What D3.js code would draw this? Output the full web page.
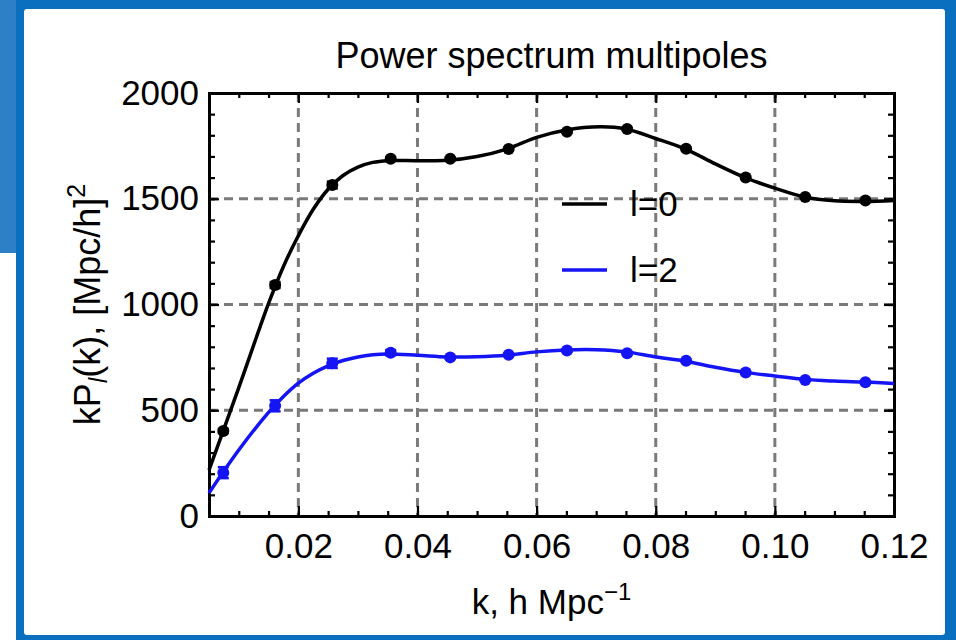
<!DOCTYPE html>
<html>
<head>
<meta charset="utf-8">
<script src="https://cdn.jsdelivr.net/npm/d3@7"></script>
<style>
  body { margin: 0; background: #fff; }
  svg { display: block; }
</style>
</head>
<body>
<div id="chart"></div>
<script>
var kPts  = [0.0074, 0.0161, 0.0257, 0.0355, 0.0455, 0.0553, 0.0651, 0.0752, 0.0851, 0.0951, 0.1051, 0.1152];
var p0Pts = [402, 1092, 1565, 1689, 1689, 1735, 1817, 1830, 1736, 1600, 1508, 1492];
var p0Err = [10, 14, 16, 8, 6, 5, 5, 5, 5, 5, 4, 4];
var p2Pts = [205, 521, 722, 772, 750, 762, 782, 770, 734, 678, 643, 632];
var p2Err = [26, 26, 22, 12, 6, 5, 5, 5, 4, 4, 4, 4];

// model curves
var k0Model = [0.005, 0.01, 0.015, 0.0175, 0.02, 0.0225, 0.025, 0.0275, 0.03, 0.0325, 0.035, 0.04, 0.045, 0.05, 0.055, 0.06, 0.065, 0.0707, 0.075, 0.08, 0.085, 0.09, 0.095, 0.10, 0.105, 0.11, 0.115, 0.12];
var p0Model = [217, 607, 1005, 1180, 1325, 1450, 1545, 1610, 1650, 1672, 1680, 1680, 1682, 1700, 1735, 1790, 1825, 1840, 1830, 1785, 1735, 1665, 1600, 1550, 1508, 1490, 1487, 1492];
var k2Model = [0.005, 0.01, 0.015, 0.0175, 0.02, 0.0225, 0.025, 0.0275, 0.03, 0.0325, 0.035, 0.04, 0.045, 0.05, 0.055, 0.06, 0.065, 0.07, 0.075, 0.08, 0.085, 0.09, 0.095, 0.10, 0.105, 0.11, 0.115, 0.12];
var p2Model = [109, 312, 490, 565, 628, 675, 710, 735, 752, 762, 766, 760, 752, 753, 760, 776, 785, 786, 776, 752, 732, 703, 679, 662, 646, 638, 633, 627];

var xMajor = [0.02, 0.04, 0.06, 0.08, 0.10, 0.12];
var yMajor = [0, 500, 1000, 1500, 2000];
var xGrid = [0.02, 0.04, 0.06, 0.08, 0.10];
var yGrid = [500, 1000, 1500];

var W = 956, H = 640;
var margin = {left: 209, right: 956 - 894, top: 93, bottom: 640 - 516};
var width = W - margin.left - margin.right;
var height = H - margin.top - margin.bottom;

var svg = d3.select('#chart').append('svg')
    .attr('width', W)
    .attr('height', H)
    .style('font-family', '"Liberation Sans", Arial, sans-serif');

// slide frame
svg.append('rect').attr('x', 0).attr('y', 0).attr('width', W).attr('height', H).attr('fill', '#0b6fbf');
svg.append('rect').attr('x', 0).attr('y', 253).attr('width', 16).attr('height', H - 253).attr('fill', '#fff');
svg.append('rect').attr('x', 0).attr('y', 0).attr('width', 16).attr('height', 253).attr('fill', '#2d7fc6');
svg.append('rect').attr('x', 24).attr('y', 9).attr('width', 945 - 24).attr('height', 635 - 9)
    .attr('rx', 3).attr('fill', '#fff');

var g = svg.append('g')
    .attr('transform', 'translate(' + margin.left + ',' + margin.top + ')');

var x = d3.scaleLinear().domain([0.005, 0.12]).range([0, width]);
var y = d3.scaleLinear().domain([0, 2000]).range([height, 0]);

var xMinor = d3.range(10, 121, 5).map(function(d) { return d / 1000; });
var yMinor = d3.range(100, 2000, 100);

// dashed grid
g.selectAll('.gx').data(xGrid).enter().append('line')
    .attr('x1', d => x(d)).attr('x2', d => x(d))
    .attr('y1', 0).attr('y2', height)
    .attr('stroke', '#7a7a7a').attr('stroke-width', 3)
    .attr('stroke-dasharray', '9,6');
g.selectAll('.gy').data(yGrid).enter().append('line')
    .attr('x1', 0).attr('x2', width)
    .attr('y1', d => y(d)).attr('y2', d => y(d))
    .attr('stroke', '#7a7a7a').attr('stroke-width', 3)
    .attr('stroke-dasharray', '9,6');

// axes with inward ticks on all four sides
function styleAxis(sel) {
    sel.select('.domain').attr('stroke', '#000').attr('stroke-width', 3);
    sel.selectAll('.tick line').attr('stroke', '#000').attr('stroke-width', 2.2);
    sel.selectAll('.tick text').attr('fill', '#000').style('font-size', '35px');
}

g.append('g').attr('transform', 'translate(0,' + height + ')')
    .call(d3.axisBottom(x).tickValues(xMinor).tickSize(-5).tickFormat(''))
    .call(styleAxis);
g.append('g').attr('transform', 'translate(0,' + height + ')')
    .call(d3.axisBottom(x).tickValues(xMajor).tickSize(-10).tickSizeOuter(0).tickPadding(17).tickFormat(d3.format('.2f')))
    .call(styleAxis);
g.append('g')
    .call(d3.axisTop(x).tickValues(xMinor).tickSize(-5).tickFormat(''))
    .call(styleAxis);
g.append('g')
    .call(d3.axisTop(x).tickValues(xMajor).tickSize(-10).tickSizeOuter(0).tickFormat(''))
    .call(styleAxis);

g.append('g')
    .call(d3.axisLeft(y).tickValues(yMinor).tickSize(-6).tickFormat(''))
    .call(styleAxis);
g.append('g')
    .call(d3.axisLeft(y).tickValues(yMajor).tickSize(-10).tickSizeOuter(0).tickPadding(10).tickFormat(d3.format('d')))
    .call(styleAxis);
g.append('g').attr('transform', 'translate(' + width + ',0)')
    .call(d3.axisRight(y).tickValues(yMinor).tickSize(-6).tickFormat(''))
    .call(styleAxis);
g.append('g').attr('transform', 'translate(' + width + ',0)')
    .call(d3.axisRight(y).tickValues(yMajor).tickSize(-10).tickSizeOuter(0).tickFormat(''))
    .call(styleAxis);

// model lines
var line = d3.line()
    .curve(d3.curveCatmullRom.alpha(0.5))
    .x(d => x(d[0]))
    .y(d => y(d[1]));

var series = [
    {name: 'l=0', color: '#000', kModel: k0Model, model: p0Model, pts: p0Pts, err: p0Err},
    {name: 'l=2', color: '#1414f5', kModel: k2Model, model: p2Model, pts: p2Pts, err: p2Err}
];

series.forEach(function(s) {
    g.append('path')
        .datum(s.kModel.map((k, i) => [k, s.model[i]]))
        .attr('fill', 'none')
        .attr('stroke', s.color)
        .attr('stroke-width', 3.5)
        .attr('d', line);

    var pts = kPts.map((k, i) => ({k: k, v: s.pts[i], e: s.err[i]}));
    var eb = g.append('g').attr('stroke', s.color).attr('stroke-width', 2.5);
    eb.selectAll('.bar').data(pts).enter().append('line')
        .attr('x1', d => x(d.k)).attr('x2', d => x(d.k))
        .attr('y1', d => y(d.v - d.e)).attr('y2', d => y(d.v + d.e));
    eb.selectAll('.capLo').data(pts).enter().append('line')
        .attr('x1', d => x(d.k) - 5.5).attr('x2', d => x(d.k) + 5.5)
        .attr('y1', d => y(d.v - d.e)).attr('y2', d => y(d.v - d.e));
    eb.selectAll('.capHi').data(pts).enter().append('line')
        .attr('x1', d => x(d.k) - 5.5).attr('x2', d => x(d.k) + 5.5)
        .attr('y1', d => y(d.v + d.e)).attr('y2', d => y(d.v + d.e));

    g.selectAll(null).data(pts).enter().append('circle')
        .attr('cx', d => x(d.k))
        .attr('cy', d => y(d.v))
        .attr('r', 6)
        .attr('fill', s.color);
});

// legend
var legend = g.append('g');
series.forEach(function(s, i) {
    var ly = 204 - margin.top + i * 66;
    legend.append('line')
        .attr('x1', 562 - margin.left).attr('x2', 607 - margin.left)
        .attr('y1', ly).attr('y2', ly)
        .attr('stroke', s.color).attr('stroke-width', 3.5);
    legend.append('text')
        .attr('x', 630 - margin.left).attr('y', ly + 12)
        .style('font-size', '35px')
        .text(s.name);
});

// title
svg.append('text')
    .attr('x', margin.left + width / 2).attr('y', 68)
    .attr('text-anchor', 'middle')
    .style('font-size', '36px')
    .text('Power spectrum multipoles');

// x label
var xl = svg.append('text')
    .attr('x', margin.left + width / 2).attr('y', 614)
    .attr('text-anchor', 'middle')
    .style('font-size', '35px');
xl.append('tspan').text('k, h Mpc');
xl.append('tspan').attr('dy', -14).style('font-size', '24px').text('\u22121');

// y label
var yl = svg.append('text')
    .attr('transform', 'translate(100,' + (margin.top + height / 2) + ') rotate(-90)')
    .attr('text-anchor', 'middle')
    .style('font-size', '36px');
yl.append('tspan').text('kP');
yl.append('tspan').attr('dy', 7).style('font-size', '25px').style('font-style', 'italic').text('l');
yl.append('tspan').attr('dy', -7).text('(k), [Mpc/h]');
yl.append('tspan').attr('dy', -15).style('font-size', '25px').text('2');
</script>
</body>
</html>
